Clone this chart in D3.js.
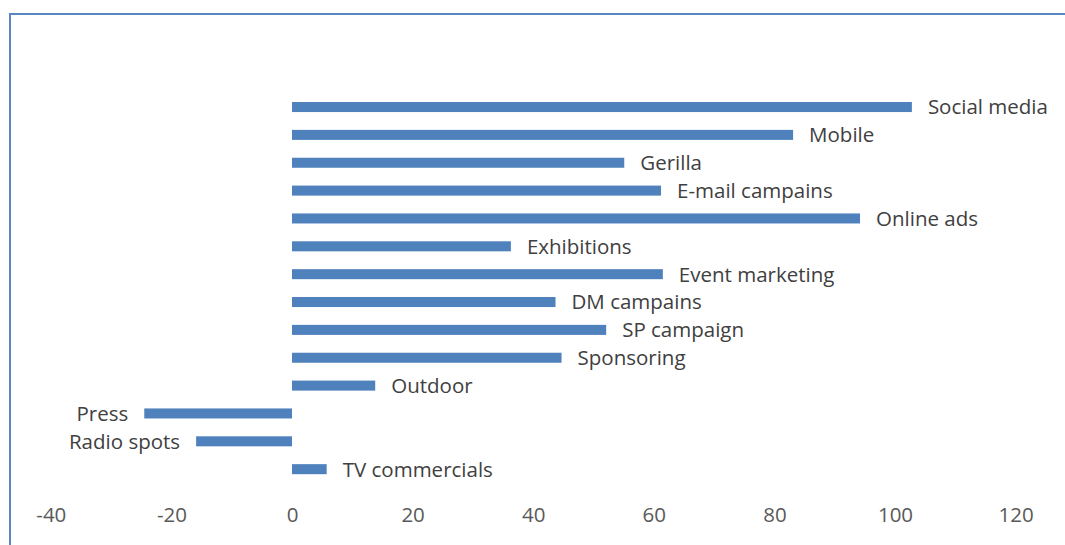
<!DOCTYPE html>
<html>
<head>
<meta charset="utf-8">
<script src="https://cdn.jsdelivr.net/npm/d3@7"></script>
<style>
  html, body { margin: 0; padding: 0; background: #fff; }
  svg { display: block; }
</style>
</head>
<body>
<div id="chart"></div>
<script>
var categories = ['Social media', 'Mobile', 'Gerilla', 'E-mail campains', 'Online ads',
  'Exhibitions', 'Event marketing', 'DM campains', 'SP campaign', 'Sponsoring',
  'Outdoor', 'Press', 'Radio spots', 'TV commercials'];
var values = [102.8, 83.1, 55.1, 61.2, 94.2, 36.3, 61.5, 43.7, 52.1, 44.7, 13.8, -24.5, -15.9, 5.75];
var tickValues = [-40, -20, 0, 20, 40, 60, 80, 100, 120];

var width = 1065, height = 545;
var barColor = '#4f81bd';
var fontFam = '"Open Sans", "Noto Sans", sans-serif';

var svg = d3.select('#chart').append('svg')
  .attr('width', width)
  .attr('height', height);

// chart frame (only top and left edges fall inside the picture)
svg.append('path')
  .attr('d', 'M10,' + (height + 5) + 'V14H' + (width + 5))
  .attr('fill', 'none')
  .attr('stroke', '#5b87c0')
  .attr('stroke-width', 2);

var x = d3.scaleLinear()
  .domain([0, 120])
  .range([292, 1015.6]);

var y = d3.scaleBand()
  .domain(categories)
  .range([93.1, 483.1])
  .paddingInner(0.64)
  .paddingOuter(0.32);

// bars
svg.selectAll('.bar')
  .data(values)
  .enter().append('rect')
  .attr('class', 'bar')
  .attr('x', function (d) { return x(Math.min(0, d)); })
  .attr('y', function (d, i) { return y(categories[i]); })
  .attr('width', function (d) { return Math.abs(x(d) - x(0)); })
  .attr('height', y.bandwidth())
  .attr('fill', barColor);

// category labels next to bar ends
svg.selectAll('.lbl')
  .data(values)
  .enter().append('text')
  .attr('class', 'lbl')
  .attr('x', function (d) { return d >= 0 ? x(d) + 16 : x(d) - 16; })
  .attr('y', function (d, i) { return y(categories[i]) + y.bandwidth() / 2; })
  .attr('dy', '0.36em')
  .attr('text-anchor', function (d) { return d >= 0 ? 'start' : 'end'; })
  .style('font-family', fontFam)
  .style('font-size', '20.5px')
  .attr('fill', '#404040')
  .text(function (d, i) { return categories[i]; });

// x axis, labels only
var axis = svg.append('g')
  .attr('transform', 'translate(0,515)')
  .call(d3.axisBottom(x).tickValues(tickValues).tickSize(0).tickPadding(0).tickFormat(d3.format('d')));

axis.select('.domain').remove();
axis.selectAll('text')
  .attr('y', 0)
  .attr('dy', '0.36em')
  .style('font-family', fontFam)
  .style('font-size', '20.5px')
  .attr('fill', '#595959')
  .text(function (d) { return d < 0 ? '-' + Math.abs(d) : d; });
</script>
</body>
</html>
